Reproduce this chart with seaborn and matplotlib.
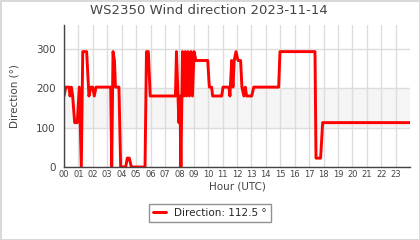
import matplotlib
matplotlib.use("Agg")
import matplotlib.pyplot as plt
import seaborn as sns
import pandas as pd

title = "WS2350 Wind direction 2023-11-14"
hour_labels = [f"{h:02d}" for h in range(24)]
hours = [0.00, 0.12, 0.35, 0.42, 0.51, 0.60, 0.74, 0.92, 1.06, 1.20, 1.30, 1.57,
         1.73, 1.87, 1.99, 2.10, 2.22, 3.24, 3.31, 3.40, 3.50, 3.57, 3.81, 3.93,
         4.28, 4.39, 4.53, 4.67, 5.62, 5.72, 5.85, 5.98, 7.73, 7.80, 7.97, 8.04,
         8.11, 8.22, 8.32, 8.41, 8.50, 8.60, 8.70, 8.81, 8.91, 9.02, 9.15, 9.97,
         10.08, 10.24, 10.31, 10.94, 11.03, 11.44, 11.51, 11.63, 11.72, 11.81, 11.93,
         12.07, 12.25, 12.34, 12.48, 12.57, 12.67, 13.02, 13.16, 14.89, 14.98, 17.41,
         17.48, 17.80, 17.94, 24.00]
direction = [180, 202.5, 202.5, 180, 202.5, 180, 112.5, 112.5, 202.5, 0, 292.5, 292.5,
             180, 202.5, 202.5, 180, 202.5, 202.5, 0, 292.5, 270, 202.5, 202.5, 0,
             0, 22.5, 22.5, 0, 0, 292.5, 292.5, 180, 180, 292.5, 112.5, 180,
             0, 292.5, 180, 292.5, 180, 292.5, 180, 292.5, 180, 292.5, 270, 270,
             202.5, 202.5, 180, 180, 202.5, 202.5, 180, 270, 202.5, 270, 292.5,
             270, 270, 202.5, 180, 202.5, 180, 180, 202.5, 202.5, 292.5, 292.5,
             22.5, 22.5, 112.5, 112.5]

df = pd.DataFrame({"hour": hours, "dir": direction})

sns.set_style("white")
plt.rcParams['font.family'] = ['DejaVu Sans']
txt = "#444444"

fig = plt.figure(figsize=(4.2, 2.4), dpi=100, facecolor="white",
                 edgecolor="#d9d9d9", linewidth=2)
ax = fig.add_axes([64/420, 1-167/240, 346/420, 142/240])

ax.axhspan(100, 200, color="#f5f5f5", zorder=0)
sns.lineplot(data=df, x="hour", y="dir", ax=ax, color="#ff0000", linewidth=2.1,
             estimator=None, label=f"Direction: {direction[-1]} °", legend=False)

ax.set_xlim(0, 24)
ax.set_ylim(0, 360)
ax.set_xticks(range(24))
ax.set_xticklabels(hour_labels, fontsize=6, color=txt)
ax.set_yticks([0, 100, 200, 300])
ax.set_yticks([50, 150, 250, 350], minor=True)
ax.tick_params(axis="y", which="major", length=4, width=0.8, color="#555555",
               labelsize=7.5, labelcolor=txt, pad=2)
ax.tick_params(axis="y", which="minor", length=3, width=0.8, color="#555555")
ax.tick_params(axis="x", length=0, pad=2)
ax.grid(True, which="major", color="#dddddd", linewidth=1)
ax.set_axisbelow(True)
for s in ["top", "right"]:
    ax.spines[s].set_visible(False)
for s in ["left", "bottom"]:
    ax.spines[s].set_color("#444444")
    ax.spines[s].set_linewidth(1)
ax.set_xlabel("Hour (UTC)", fontsize=7.5, color=txt, labelpad=2)
ax.set_ylabel("Direction (°)", fontsize=7.5, color=txt, labelpad=12)

fig.suptitle(title, x=0.497, y=1-11/240, va="center", fontsize=9.5, color=txt)

h, l = ax.get_legend_handles_labels()
leg = fig.legend(h, l, loc="center", bbox_to_anchor=(0.5, 1-213/240), fontsize=7.5,
                 frameon=True, fancybox=False, edgecolor="#777777",
                 handlelength=1.2, borderpad=0.4)
leg.get_frame().set_linewidth(1)

fig.savefig("out.png", dpi=100, facecolor="white", edgecolor="#d9d9d9")
